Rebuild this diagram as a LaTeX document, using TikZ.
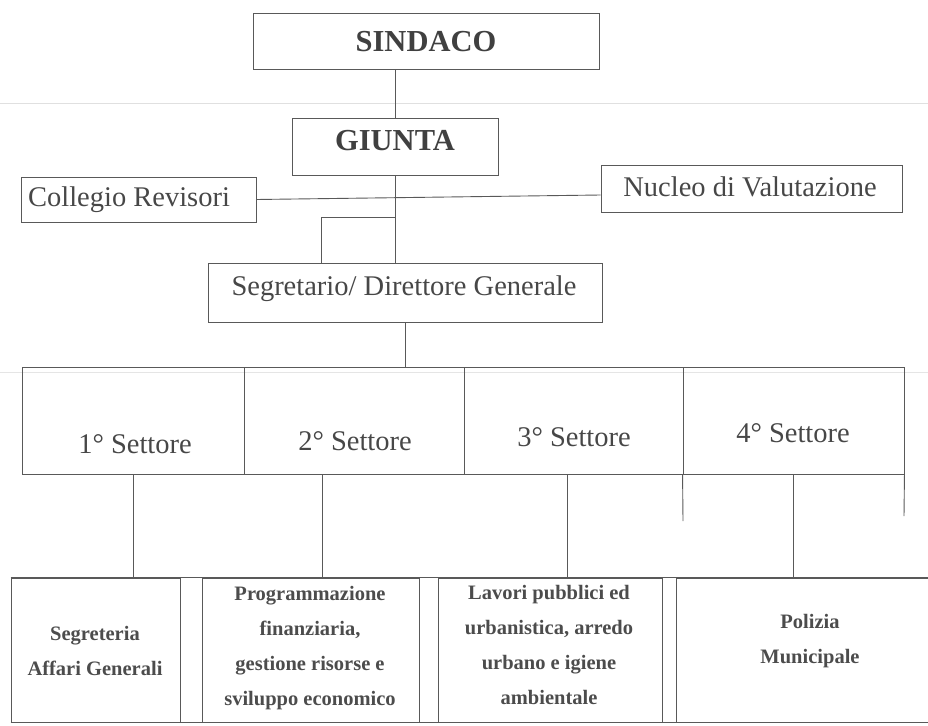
\documentclass[tikz,border=0pt]{standalone}
\usepackage{fontspec}
\setmainfont{Liberation Serif}
\begin{document}
\begin{tikzpicture}[x=1pt,y=-1pt,
  ln/.style={draw=black!65, line width=0.9pt},
  box/.style={draw=black!65, line width=0.9pt, inner sep=0pt},
  txt/.style={text=black!72, inner sep=0pt, font=\fontsize{28.5}{31}\selectfont},
  htxt/.style={text=black!75, inner sep=0pt, font=\fontsize{30.5}{33}\selectfont\bfseries},
  btxt/.style={text=black!70, inner sep=0pt, align=center, font=\fontsize{20.5}{35}\selectfont\bfseries},
]
\useasboundingbox (0,0) rectangle (928,725);
\clip (0,0) rectangle (928,725);
% faint scan lines
\draw[black!12, line width=1pt] (0,103) -- (928,103);
\draw[black!10, line width=1pt] (0,372) -- (928,372);

% top boxes
\node[box, minimum width=346, minimum height=56] (sind) at (426,41) {};
\node[htxt] (sindt) at (426,42) {SINDACO};
\node[box, minimum width=206, minimum height=57] (giunta) at (395,146.5) {};
\node[htxt] (giuntat) at (395,141) {GIUNTA};
\node[box, minimum width=235, minimum height=45] (coll) at (138.5,199.5) {};
\node[txt] (collt) at (129,200) {Collegio Revisori};
\node[box, minimum width=301, minimum height=47] (nuc) at (751.5,188.5) {};
\node[txt] (nuct) at (750,187) {Nucleo di Valutazione};
\node[box, minimum width=394, minimum height=59] (segr) at (405,292.5) {};
\node[txt] (segrt) at (404,289) {Segretario/ Direttore Generale};

% settori row
\node[box, minimum width=222, minimum height=107] (s1) at (133,420.5) {};
\node[box, minimum width=220, minimum height=107] (s2) at (354,420.5) {};
\node[box, minimum width=219, minimum height=107] (s3) at (573.5,420.5) {};
\node[box, minimum width=221, minimum height=107] (s4) at (793.5,420.5) {};
\node[txt] (s1t) at (135,444) {1° Settore};
\node[txt] (s2t) at (355,441) {2° Settore};
\node[txt] (s3t) at (574,437) {3° Settore};
\node[txt] (s4t) at (793,433) {4° Settore};

% bottom row
\node[box, minimum width=169, minimum height=144] (b1) at (95.5,650) {};
\node[box, minimum width=217, minimum height=144] (b2) at (310.5,650) {};
\node[box, minimum width=224, minimum height=144] (b3) at (550,650) {};
\node[box, minimum width=259, minimum height=144] (b4) at (805.5,650) {};
\draw[ln] (b1.north west) -- (b4.north east);
\draw[ln] (b1.south west) -- (b4.south east);
\node[btxt] (b1t) at (95,651) {Segreteria\\Affari Generali};
\node[btxt] (b2t) at (310,648) {Programmazione\\finanziaria,\\gestione risorse e\\sviluppo economico};
\node[btxt] (b3t) at (549,645) {Lavori pubblici ed\\urbanistica, arredo\\urbano e igiene\\ambientale};
\node[btxt] (b4t) at (810,641) {Polizia\\Municipale};

% connectors
\draw[ln] (sind.south -| giunta.north) -- (giunta.north);
\draw[ln] (giunta.south) -- (giunta.south |- segr.north);
\draw[ln] (coll.east) -- (nuc.west |- 0,195);
\coordinate (br) at (395,217);
\draw[ln] (br) -| (segr.north -| 321,0);
\draw[ln] (segr.south) -- (segr.south |- s2.north);
\draw[ln] (s1.south) -- (s1.south |- b1.north);
\draw[ln] (s2.south -| 322,0) -- (b2.north -| 322,0);
\draw[ln] (s3.south -| 567,0) -- (b3.north -| 567,0);
\draw[ln] (s4.south) -- (s4.south |- b4.north);
\coordinate (e1) at (683,521);
\coordinate (e2) at (904,516);
\draw[ln] (s4.south west) -- (e1);
\draw[ln] (s4.south east) -- (e2);
\end{tikzpicture}
\end{document}
